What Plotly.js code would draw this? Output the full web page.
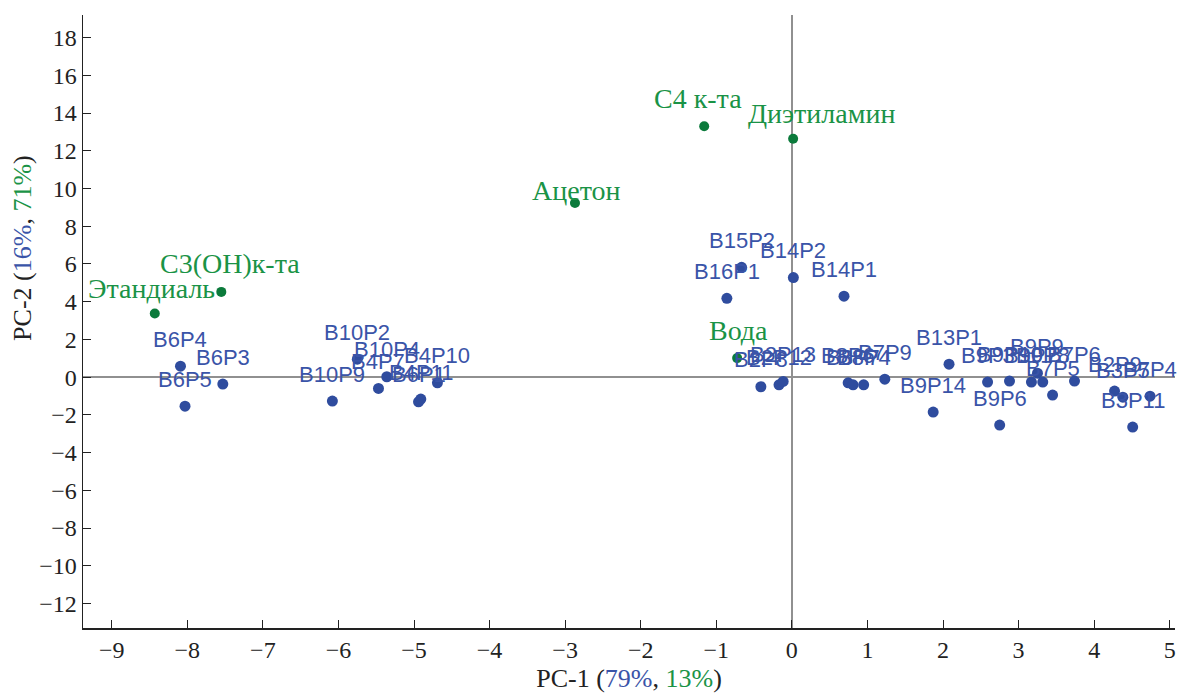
<!DOCTYPE html>
<html>
<head>
<meta charset="utf-8">
<script src="https://cdn.plot.ly/plotly-3.0.1.min.js"></script>
<style>html,body{margin:0;padding:0;background:#fff;}#chart{width:1178px;height:693px;}</style>
</head>
<body>
<div id="chart"></div>
<script>
// Blue points (samples)
const blueNames = ["B6P4","B6P3","B6P5","B10P2","B10P4","B4P7","B4P10","B10P9","B6P1","B4P11",
  "B15P2","B14P2","B16P1","B14P1","B2P8","B2P12","B2P13","B8P6","B8P7","B8P4","B7P9",
  "B13P1","B9P14","B9P3","B9P10","B9P7","B9P9","B9P8","B7P5","B7P6","B2P9","B3P5","B3P11","B7P4","B9P6"];
const blueX = [-8.09,-7.53,-8.03,-5.75,-5.36,-5.47,-4.69,-6.08,-4.94,-4.91,
  -0.665,0.02,-0.86,0.69,-0.41,-0.17,-0.115,0.745,0.81,0.95,1.23,
  2.08,1.87,2.59,2.88,3.17,3.25,3.32,3.45,3.74,4.27,4.38,4.51,4.74,2.75];
const blueY = [0.58,-0.37,-1.54,0.95,0.02,-0.60,-0.30,-1.27,-1.31,-1.16,
  5.82,5.28,4.18,4.29,-0.51,-0.41,-0.23,-0.30,-0.41,-0.41,-0.11,
  0.69,-1.85,-0.26,-0.21,-0.26,0.21,-0.26,-0.95,-0.21,-0.74,-1.06,-2.65,-1.01,-2.54];

// Green points (solvents)
const greenNames = ["Этандиаль","C3(OH)к-та","Ацетон","C4 к-та","Диэтиламин","Вода"];
const greenX = [-8.43,-7.55,-2.87,-1.16,0.017,-0.724];
const greenY = [3.37,4.52,9.23,13.30,12.64,1.01];
// label offsets (pixels) for green labels
const greenDx = [-3,9,2,-6,28,1];
const greenDy = [25,28,13,28,25,28];

// Axis ticks
const xTicks = [-9,-8,-7,-6,-5,-4,-3,-2,-1,0,1,2,3,4,5];
const yTicks = [-12,-10,-8,-6,-4,-2,0,2,4,6,8,10,12,14,16,18];

const BLUE_M = '#2f4c9e', BLUE_T = '#3a54a8', GREEN_M = '#0b7a3b', GREEN_T = '#1a9346';
const serif = '"Liberation Serif", "Times New Roman", serif';
const sans = '"Liberation Sans", Arial, sans-serif';

const traces = [
  {x: blueX, y: blueY, mode: 'markers', type: 'scatter', marker: {color: BLUE_M, size: 11}, hoverinfo: 'skip'},
  {x: greenX, y: greenY, mode: 'markers', type: 'scatter', marker: {color: GREEN_M, size: 10}, hoverinfo: 'skip'}
];

const annotations = [];
blueNames.forEach((t, i) => annotations.push({
  x: blueX[i], y: blueY[i], xref: 'x', yref: 'y', text: t, showarrow: false,
  yshift: 27, font: {family: sans, size: 22, color: BLUE_T}
}));
greenNames.forEach((t, i) => annotations.push({
  x: greenX[i], y: greenY[i], xref: 'x', yref: 'y', text: t, showarrow: false,
  xshift: greenDx[i], yshift: greenDy[i], font: {family: serif, size: 28, color: GREEN_T}
}));
annotations.push({
  xref: 'paper', yref: 'paper', x: -0.055, y: 0.62, textangle: -90, showarrow: false,
  xanchor: 'center', yanchor: 'middle',
  text: 'PC-2 (<span style="color:' + BLUE_T + '">16%</span>, <span style="color:' + GREEN_T + '">71%</span>)',
  font: {family: serif, size: 26, color: '#222'}
});

const layout = {
  width: 1178, height: 693,
  margin: {l: 83, r: 3, t: 15, b: 65},
  paper_bgcolor: '#fff', plot_bgcolor: '#fff',
  showlegend: false,
  xaxis: {
    range: [-9.38, 5.07], tickvals: xTicks, ticks: 'inside', ticklen: 8, tickcolor: '#222', tickwidth: 1,
    showline: true, linecolor: '#222', linewidth: 1.5, mirror: false, showgrid: false,
    zeroline: true, zerolinecolor: '#909090', zerolinewidth: 2,
    tickfont: {family: serif, size: 24, color: '#222'},
    title: {text: 'PC-1 (<span style="color:' + BLUE_T + '">79%</span>, <span style="color:' + GREEN_T + '">13%</span>)',
      font: {family: serif, size: 26, color: '#222'}, standoff: 6},
    automargin: false
  },
  yaxis: {
    range: [-13.3, 19.2], tickvals: yTicks, ticks: 'inside', ticklen: 8, tickcolor: '#222', tickwidth: 1,
    showline: true, linecolor: '#222', linewidth: 1.5, mirror: false, showgrid: false,
    zeroline: true, zerolinecolor: '#909090', zerolinewidth: 2,
    tickfont: {family: serif, size: 24, color: '#222'},
    automargin: false
  },
  annotations: annotations
};

Plotly.newPlot('chart', traces, layout, {displayModeBar: false, staticPlot: true});
</script>
</body>
</html>
